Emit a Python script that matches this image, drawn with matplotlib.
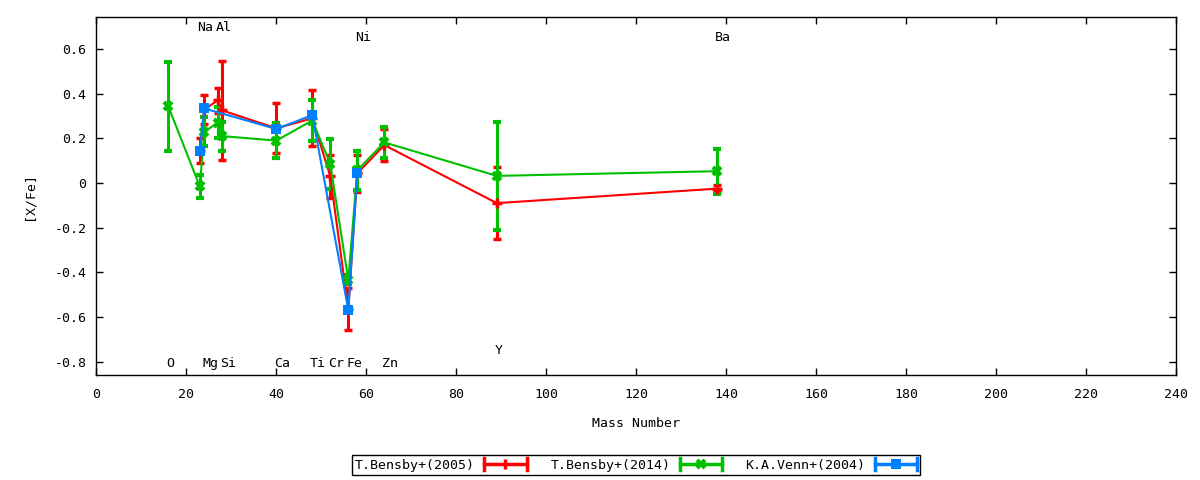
import matplotlib
matplotlib.use("Agg")
import matplotlib.pyplot as plt
from matplotlib.lines import Line2D
from matplotlib.legend_handler import HandlerBase

plt.rcParams['font.family'] = ['DejaVu Sans Mono']
plt.rcParams['font.size'] = 9
plt.rcParams['axes.unicode_minus'] = False

# ---------------- data ----------------
# T.Bensby+(2005)
b05_mass = [23, 24, 27, 28, 40, 48, 52, 56, 58, 64, 89, 138]
b05_val = [0.144, 0.33, 0.37, 0.325, 0.245, 0.29, 0.03, -0.565, 0.043, 0.17, -0.09, -0.025]
b05_err = [0.056, 0.065, 0.055, 0.22, 0.112, 0.125, 0.095, 0.095, 0.082, 0.07, 0.16, 0.015]

# T.Bensby+(2014)
b14_mass = [16, 23, 24, 27, 28, 40, 48, 52, 56, 58, 64, 89, 138]
b14_val = [0.343, -0.015, 0.23, 0.27, 0.21, 0.19, 0.28, 0.085, -0.434, 0.057, 0.182, 0.032, 0.053]
b14_err = [0.2, 0.05, 0.065, 0.07, 0.065, 0.08, 0.09, 0.11, 0.02, 0.088, 0.07, 0.242, 0.1]

# K.A.Venn+(2004)
v04_mass = [23, 24, 40, 48, 56, 58]
v04_val = [0.145, 0.334, 0.242, 0.304, -0.568, 0.043]
v04_err = [0.0, 0.0, 0.0, 0.0, 0.0, 0.0]

series_labels = ["T.Bensby+(2005)", "T.Bensby+(2014)", "K.A.Venn+(2004)"]

# element labels
elem_names = ["O", "Na", "Mg", "Al", "Si", "Ca", "Ti", "Cr", "Fe", "Ni", "Zn", "Y", "Ba"]
elem_mass = [16, 23, 24, 27, 28, 40, 48, 52, 56, 58, 64, 89, 138]
elem_ypos = [-0.807, 0.697, -0.807, 0.697, -0.807, -0.807, -0.807, -0.807, -0.807,
             0.65, -0.807, -0.75, 0.65]

xticks = [0, 20, 40, 60, 80, 100, 120, 140, 160, 180, 200, 220, 240]
yticks = [-0.8, -0.6, -0.4, -0.2, 0, 0.2, 0.4, 0.6]
ytick_labels = ["-0.8", "-0.6", "-0.4", "-0.2", "0", "0.2", "0.4", "0.6"]

RED = "#ff0000"
GREEN = "#00c000"
BLUE = "#0080ff"

fig = plt.figure(figsize=(12, 4.8), dpi=100)
ax = fig.add_axes([0.08025, 0.2181, 0.9, 0.7458])

common = dict(lw=1.5, elinewidth=2.2, capsize=3, capthick=2.2)
ax.errorbar(b05_mass, b05_val, yerr=b05_err, color=RED, marker='+', ms=7, mew=2.5, **common)
ax.errorbar(b14_mass, b14_val, yerr=b14_err, color=GREEN, marker='x', ms=6, mew=3, **common)
ax.errorbar(v04_mass, v04_val, yerr=v04_err, color=BLUE, marker='s', ms=7, mew=0, **common)

for name, m, y in zip(elem_names, elem_mass, elem_ypos):
    ax.text(m - 0.5, y, name, ha='left', va='center', fontsize=9.5)

ax.set_xlim(0, 240)
ax.set_ylim(-0.861, 0.742)
ax.set_xticks(xticks)
ax.set_xticklabels([str(t) for t in xticks])
ax.set_yticks(yticks)
ax.set_yticklabels(ytick_labels)
ax.tick_params(direction='in', top=True, right=True, length=5, width=1, labelsize=9.5)
ax.tick_params(axis='x', pad=9)
ax.tick_params(axis='y', pad=7)
for s in ax.spines.values():
    s.set_linewidth(1)
ax.set_xlabel("Mass Number", fontsize=9.5, labelpad=12)
ax.set_ylabel("[X/Fe]", fontsize=9.5, labelpad=14)


class ErrSample(HandlerBase):
    def __init__(self, color, marker, ms, mew):
        super().__init__()
        self.color, self.marker, self.ms, self.mew = color, marker, ms, mew

    def create_artists(self, legend, orig_handle, xdescent, ydescent, width, height, fontsize, trans):
        y = height / 2 - ydescent
        x0 = -xdescent
        x1 = x0 + width
        h = 4
        arts = [
            Line2D([x0, x1], [y, y], color=self.color, lw=2.5),
            Line2D([x0, x0], [y - h, y + h], color=self.color, lw=2.5),
            Line2D([x1, x1], [y - h, y + h], color=self.color, lw=2.5),
            Line2D([(x0 + x1) / 2], [y], color=self.color, marker=self.marker,
                   ms=self.ms, mew=self.mew, ls='none'),
        ]
        for a in arts:
            a.set_transform(trans)
        return arts


handles = [Line2D([], []), Line2D([], []), Line2D([], [])]
handlers = {handles[0]: ErrSample(RED, '|', 7, 2.5),
            handles[1]: ErrSample(GREEN, 'x', 6, 3),
            handles[2]: ErrSample(BLUE, 's', 7, 0)}
leg = fig.legend(handles, series_labels, handler_map=handlers, loc='center',
                 bbox_to_anchor=(0.53, 0.031), ncol=3, markerfirst=False,
                 fontsize=9.5, handlelength=3.2, handletextpad=0.7,
                 columnspacing=1.8, borderpad=0.25, fancybox=False,
                 framealpha=1, edgecolor='black')
leg.get_frame().set_linewidth(1)

fig.savefig("out.png", dpi=100)
